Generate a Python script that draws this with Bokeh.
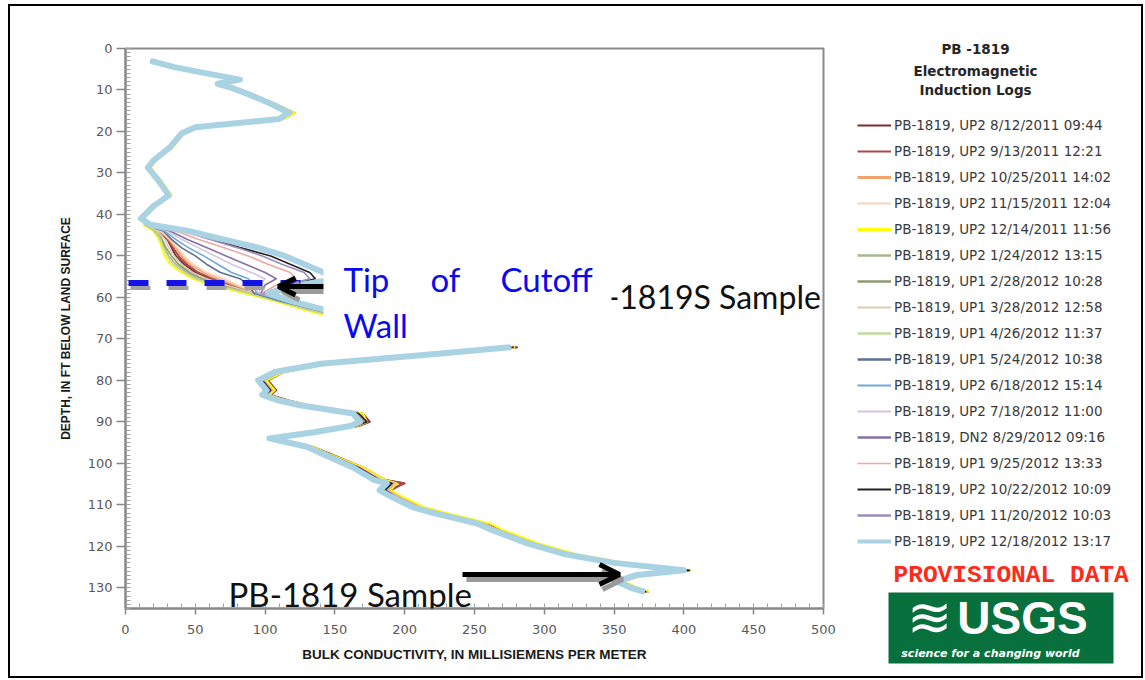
from bokeh.plotting import figure
from bokeh.layouts import row
from bokeh.models import (Range1d, FixedTicker, Legend, LegendItem, Label,
                          BoxAnnotation, Arrow, OpenHead, InlineStyleSheet)
from bokeh.embed import file_html
from bokeh.resources import INLINE

nan = float("nan")

# ---------------- data ----------------
X_TICKS = [0, 50, 100, 150, 200, 250, 300, 350, 400, 450, 500]
X_MINOR = list(range(0, 501, 10))
Y_TICKS = [0, 10, 20, 30, 40, 50, 60, 70, 80, 90, 100, 110, 120, 130]
Y_MINOR = list(range(0, 136))

DEPTH = [3, 4.5, 6, 7.5, 8.5, 9.5, 11, 13, 15.5, 17, 19, 20.5, 23.8, 27, 28.7, 32, 35.4, 38, 41,
         42.5, 44, 46, 48, 50, 52, 54, 55.5, 57, 59, 61, 63, 65,
         nan,
         72, 73.5, 76, 78, 80, 82.4, 83.5, 84.8, 86, 88, 90, 91, 92.5, 94, 96, 97.6, 101, 104,
         104.8, 106.5, 108, 110.6, 112, 114.5, 116, 119.3, 122, 124, 125.8, 127, 128.5, 130, 131]

C01 = [20, 34, 55, 79, 65, 76, 90, 105, 121, 113, 52, 42, 33, 21, 17, 25, 32, 21, 12,
       15, 24, 30, 33, 36, 42, 50, 60, 74, 92, 114, 136, 160, nan,
       281, 231, 146, 113, 102, 108, 104, 116, 131, 170, 175, 167, 140, 108, 134, 146, 170, 186,
       199, 190, 196, 212, 228, 258, 268, 294, 322, 356, 403, 370, 356, 366, 375]
C02 = [19, 34, 55, 80, 65, 76, 89, 104, 120, 112, 51, 41, 33, 21, 17, 25, 32, 21, 12,
       15, 24, 30, 34, 38, 44, 52, 62, 76, 94, 115, 137, 160, nan,
       280, 230, 145, 112, 101, 107, 103, 115, 130, 169, 174, 166, 139, 107, 133, 145, 169, 185,
       200, 189, 195, 211, 227, 257, 267, 293, 321, 355, 402, 369, 355, 365, 374]
C03 = [19, 35, 56, 80, 66, 76, 89, 104, 119, 111, 51, 41, 32, 21, 17, 24, 31, 21, 12,
       15, 25, 31, 36, 40, 46, 56, 66, 78, 95, 116, 138, 162, nan,
       279, 229, 144, 111, 100, 106, 102, 114, 129, 168, 173, 165, 138, 106, 133, 144, 168, 184,
       194, 188, 195, 210, 226, 256, 266, 292, 320, 354, 402, 368, 354, 364, 373]
C04 = [19, 35, 56, 81, 66, 76, 89, 103, 119, 111, 51, 40, 32, 21, 17, 24, 31, 21, 12,
       15, 25, 32, 37, 42, 48, 58, 70, 80, 96, 116, 138, 162, nan,
       279, 229, 144, 111, 99, 106, 101, 113, 129, 167, 172, 165, 138, 106, 132, 143, 167, 183,
       193, 187, 194, 210, 226, 256, 266, 292, 320, 354, 402, 368, 354, 364, 373]
C05 = [20, 36, 57, 81, 67, 78, 91, 105, 121, 114, 53, 42, 34, 22, 18, 26, 33, 22, 13,
       13, 20, 24, 26, 28, 32, 40, 48, 62, 85, 108, 128, 150, nan,
       279, 232, 147, 113, 101, 107, 103, 114, 131, 170, 173, 166, 140, 105, 134, 145, 170, 186,
       194, 190, 198, 214, 230, 261, 270, 296, 324, 358, 405, 370, 356, 367, 375]
C06 = [19, 35, 57, 81, 67, 77, 90, 104, 119, 111, 52, 41, 33, 21, 17, 25, 32, 21, 12,
       14, 21, 25, 28, 31, 36, 44, 52, 66, 88, 110, 132, 158, nan,
       278, 229, 144, 111, 99, 105, 101, 113, 129, 167, 172, 165, 138, 106, 132, 143, 167, 183,
       192, 187, 194, 210, 226, 256, 266, 292, 320, 354, 402, 368, 354, 364, 373]
C07 = [19, 35, 57, 81, 67, 77, 90, 103, 118, 111, 51, 41, 33, 21, 17, 25, 32, 21, 12,
       15, 22, 26, 29, 33, 38, 46, 55, 70, 90, 112, 134, 158, nan,
       278, 229, 143, 110, 99, 105, 101, 112, 128, 166, 172, 164, 138, 105, 132, 143, 167, 182,
       191, 186, 193, 209, 225, 255, 265, 291, 319, 353, 401, 367, 354, 364, 373]
C08 = [19, 35, 57, 81, 67, 77, 89, 103, 118, 111, 51, 41, 32, 21, 17, 24, 31, 21, 12,
       15, 23, 28, 31, 35, 40, 48, 58, 72, 92, 114, 136, 160, nan,
       278, 228, 143, 110, 98, 104, 100, 112, 128, 166, 171, 164, 137, 105, 131, 142, 166, 182,
       191, 186, 193, 209, 225, 255, 265, 291, 319, 353, 401, 367, 354, 364, 373]
C09 = [19, 36, 57, 81, 67, 78, 90, 104, 119, 112, 52, 41, 33, 22, 17, 25, 32, 21, 12,
       14, 22, 25, 27, 30, 34, 42, 50, 64, 88, 110, 130, 155, nan,
       278, 229, 144, 111, 99, 105, 101, 113, 129, 167, 172, 165, 138, 106, 132, 143, 167, 183,
       192, 187, 194, 210, 226, 256, 266, 292, 320, 354, 402, 368, 354, 364, 373]
C10 = [19, 35, 57, 81, 67, 77, 89, 103, 118, 111, 51, 41, 32, 21, 17, 24, 31, 21, 12,
       15, 27, 33, 40, 50, 58, 68, 82, 88, 92, 112, 136, 160, nan,
       278, 228, 143, 110, 98, 104, 100, 112, 128, 166, 171, 164, 137, 105, 131, 142, 166, 181,
       190, 185, 192, 208, 224, 254, 264, 290, 318, 352, 401, 367, 353, 363, 372]
C11 = [19, 35, 57, 81, 67, 77, 89, 103, 118, 111, 51, 41, 32, 21, 17, 24, 31, 21, 12,
       15, 28, 36, 45, 56, 66, 76, 88, 92, 94, 114, 137, 162, nan,
       277, 228, 142, 109, 97, 103, 100, 111, 127, 165, 170, 163, 137, 104, 131, 142, 166, 181,
       190, 185, 192, 208, 224, 254, 264, 290, 318, 352, 401, 367, 353, 363, 372]
C12 = [18, 35, 57, 81, 67, 77, 89, 103, 118, 111, 51, 40, 32, 21, 17, 24, 31, 21, 12,
       16, 30, 40, 52, 64, 76, 90, 100, 96, 96, 116, 138, 163, nan,
       277, 228, 142, 109, 97, 103, 99, 111, 127, 165, 170, 163, 136, 104, 131, 142, 165, 180,
       189, 184, 191, 207, 223, 253, 263, 289, 317, 351, 401, 366, 353, 363, 372]
C13 = [18, 35, 57, 81, 67, 77, 89, 103, 118, 111, 51, 40, 32, 21, 17, 24, 31, 21, 12,
       16, 32, 44, 58, 72, 86, 100, 108, 100, 97, 117, 139, 164, nan,
       277, 227, 142, 109, 97, 103, 99, 111, 127, 165, 170, 163, 136, 104, 131, 142, 165, 180,
       189, 184, 191, 207, 223, 253, 263, 289, 317, 351, 401, 366, 353, 363, 372]
C14 = [19, 36, 58, 82, 68, 78, 90, 104, 119, 112, 52, 41, 33, 22, 18, 25, 32, 22, 13,
       16, 36, 52, 70, 88, 102, 118, 122, 108, 98, 118, 140, 165, nan,
       278, 229, 143, 110, 99, 105, 101, 113, 129, 167, 172, 165, 138, 106, 133, 144, 168, 184,
       193, 188, 195, 211, 227, 257, 267, 293, 321, 355, 403, 369, 355, 365, 374]
C15 = [18, 35, 57, 81, 67, 77, 89, 103, 118, 111, 51, 40, 32, 21, 17, 24, 31, 21, 12,
       17, 42, 62, 82, 104, 118, 132, 136, 118, 100, 119, 142, 166, nan,
       278, 228, 143, 110, 98, 104, 100, 112, 128, 167, 173, 165, 138, 105, 132, 143, 167, 182,
       191, 186, 193, 209, 225, 255, 265, 291, 319, 353, 404, 368, 354, 364, 373]
C16 = [18, 35, 58, 82, 67, 77, 89, 103, 118, 111, 51, 40, 32, 21, 17, 24, 31, 21, 12,
       17, 40, 60, 80, 98, 112, 128, 132, 115, 99, 118, 141, 166, nan,
       277, 227, 142, 109, 97, 103, 99, 111, 127, 165, 170, 163, 136, 104, 131, 142, 165, 180,
       189, 184, 191, 207, 223, 253, 263, 289, 317, 351, 401, 366, 353, 363, 372]
C17 = [18, 35, 58, 82, 66, 76, 88, 102, 117, 110, 50, 40, 32, 20, 16, 24, 31, 20, 11,
       18, 45, 70, 95, 114, 128, 142, 152, 125, 102, 120, 143, 168, nan,
       276, 226, 140, 107, 95, 101, 98, 109, 125, 163, 168, 161, 135, 103, 130, 140, 163, 178,
       187, 182, 190, 206, 221, 252, 262, 288, 316, 350, 400, 365, 352, 362, 372]

SERIES = [C01, C02, C03, C04, C05, C06, C07, C08, C09, C10, C11, C12, C13, C14, C15, C16, C17]
LABELS = [
    "PB-1819, UP2 8/12/2011 09:44",
    "PB-1819, UP2 9/13/2011 12:21",
    "PB-1819, UP2 10/25/2011 14:02",
    "PB-1819, UP2 11/15/2011 12:04",
    "PB-1819, UP2 12/14/2011 11:56",
    "PB-1819, UP2 1/24/2012 13:15",
    "PB-1819, UP1 2/28/2012 10:28",
    "PB-1819, UP1 3/28/2012 12:58",
    "PB-1819, UP1 4/26/2012 11:37",
    "PB-1819, UP1 5/24/2012 10:38",
    "PB-1819, UP2 6/18/2012 15:14",
    "PB-1819, UP2 7/18/2012 11:00",
    "PB-1819, DN2 8/29/2012 09:16",
    "PB-1819, UP1 9/25/2012 13:33",
    "PB-1819, UP2 10/22/2012 10:09",
    "PB-1819, UP1 11/20/2012 10:03",
    "PB-1819, UP2 12/18/2012 13:17",
]

# ---------------- styles ----------------
COLORS = ["#7E2F2F", "#A94B4B", "#F2A36C", "#F9D4BA", "#FFFF00", "#A7B98B", "#8D9A72",
          "#D8CEB2", "#C5D99B", "#5D7193", "#72A8DA", "#D1C5E0", "#8770A8", "#F1A6A6",
          "#222222", "#9B8BBD", "#A9D3E3"]
WIDTHS = [2, 2, 2, 2, 2, 1.6, 1.6, 1.6, 1.6, 1.6, 1.6, 1.6, 1.6, 1.6, 1.6, 1.6, 6]
LEG_WIDTHS = [2, 2, 3, 2, 3, 2.5, 2.5, 2, 2.5, 2.5, 2, 2, 2.5, 1.5, 2, 2.5, 4]

W1, W2, H = 840, 303, 678
FX0, FX1, FY0, FY1 = 125, 823, 48, 608   # page pixels of the plotting frame


def dx(px):
    return (px - FX0) * 500.0 / (FX1 - FX0)


def dy(py):
    return (py - FY0) * 135.0 / (FY1 - FY0)


p = figure(width=W1, height=H, output_backend="svg", toolbar_location=None, title=None,
           x_range=Range1d(0, 500), y_range=Range1d(135, 0), frame_align=False,
           min_border_left=FX0, min_border_right=W1 - FX1,
           min_border_top=FY0, min_border_bottom=H - FY1)
p.background_fill_color = "white"
p.border_fill_color = "white"
p.outline_line_color = "#8a8a8a"
p.outline_line_width = 2
p.xgrid.visible = False
p.ygrid.visible = False

p.xaxis.ticker = FixedTicker(ticks=X_TICKS, minor_ticks=X_MINOR)
p.yaxis.ticker = FixedTicker(ticks=Y_TICKS, minor_ticks=Y_MINOR)
p.xaxis.axis_label = "BULK CONDUCTIVITY, IN MILLISIEMENS PER METER"
p.yaxis.axis_label = "DEPTH, IN FT BELOW LAND SURFACE"
for ax in (p.xaxis[0], p.yaxis[0]):
    ax.axis_line_color = "#868686"
    ax.axis_line_width = 2
    ax.major_tick_line_color = "#868686"
    ax.major_tick_line_width = 1.5
    ax.major_tick_in = 0
    ax.minor_tick_line_color = "#a0a0a0"
    ax.minor_tick_in = 5
    ax.minor_tick_out = 0
    ax.major_label_text_font = "DejaVu Sans"
    ax.major_label_text_font_size = "13px"
    ax.major_label_text_color = "#595959"
    ax.axis_label_text_font = "Liberation Sans"
    ax.axis_label_text_font_style = "bold"
    ax.axis_label_text_color = "#1a1a1a"
p.xaxis.major_tick_out = 6
p.xaxis.major_label_standoff = 10
p.xaxis.axis_label_standoff = 10
p.xaxis.axis_label_text_font_size = "13.5px"
p.yaxis.major_tick_out = 9
p.yaxis.major_label_standoff = 4
p.yaxis.axis_label_standoff = 12
p.yaxis.axis_label_text_font_size = "12px"

for cond, col, lw in zip(SERIES, COLORS, WIDTHS):
    p.line(x=cond, y=DEPTH, line_color=col, line_width=lw, line_join="round")

# ---------------- annotations inside the plot ----------------
p.add_layout(Arrow(end=None, x_start=dx(130), y_start=dy(287.5), x_end=dx(307), y_end=dy(287.5),
                   line_color="#a2a2a2", line_width=4, line_dash="20 18"))
p.add_layout(Arrow(end=None, x_start=dx(128), y_start=dy(282.5), x_end=dx(305), y_end=dy(282.5),
                   line_color="#1414E6", line_width=6, line_dash="20 18"))

p.add_layout(Label(x=dx(567), y=dy(296), text="PB-1819S Sample", text_font="Lato",
                   text_font_size="32px", text_color="#111111", text_baseline="middle"))

p.add_layout(Arrow(end=OpenHead(size=17, line_width=5, line_color="#9a9a9a"),
                   x_start=dx(330), y_start=dy(291), x_end=dx(282), y_end=dy(291),
                   line_color="#9a9a9a", line_width=5))
p.add_layout(Arrow(end=OpenHead(size=17, line_width=5, line_color="black"),
                   x_start=dx(326), y_start=dy(286), x_end=dx(278), y_end=dy(286),
                   line_color="black", line_width=5))

p.add_layout(BoxAnnotation(left=dx(323), right=dx(611), top=dy(242), bottom=dy(336),
                           fill_color="white", fill_alpha=1.0, line_alpha=0))
for txt, px, py in [("Tip", 343, 278), ("of", 430, 278), ("Cutoff", 500, 278), ("Wall", 343, 324)]:
    p.add_layout(Label(x=dx(px), y=dy(py), text=txt, text_font="Lato", text_font_size="33px",
                       text_color="#0A0AF0", text_baseline="alphabetic"))

p.add_layout(Label(x=dx(228), y=dy(593), text="PB-1819 Sample", text_font="Lato",
                   text_font_size="33px", text_color="#111111", text_baseline="alphabetic"))
p.add_layout(Arrow(end=OpenHead(size=20, line_width=5, line_color="#9a9a9a"),
                   x_start=dx(466), y_start=dy(579), x_end=dx(622), y_end=dy(579),
                   line_color="#9a9a9a", line_width=5))
p.add_layout(Arrow(end=OpenHead(size=20, line_width=5, line_color="black"),
                   x_start=dx(462), y_start=dy(574), x_end=dx(619), y_end=dy(574),
                   line_color="black", line_width=5))

# ---------------- side panel: legend, provisional note, logo ----------------
X0 = W1  # page x where the side panel starts
q = figure(width=W2, height=H, output_backend="svg", toolbar_location=None, title=None,
           x_range=Range1d(X0, X0 + W2), y_range=Range1d(H, 0), frame_align=False,
           x_axis_type=None, y_axis_type=None,
           min_border_left=0, min_border_right=0, min_border_top=0, min_border_bottom=0)
q.outline_line_color = None
q.background_fill_color = "white"
q.border_fill_color = "white"

for txt, py in [("PB -1819", 48), ("Electromagnetic", 70), ("Induction Logs", 89)]:
    q.add_layout(Label(x=975, y=py, text=txt, text_font="DejaVu Sans",
                       text_font_style="bold", text_font_size="13.5px", text_color="#262626",
                       text_align="center", text_baseline="middle"))

items = []
for cond, lab, col, lw in zip(SERIES, LABELS, COLORS, LEG_WIDTHS):
    r = q.line(x=cond, y=DEPTH, line_color=col, line_width=lw, visible=False)
    items.append(LegendItem(label=lab, renderers=[r]))
legend = Legend(items=items, location=(857 - X0, H - 551), orientation="vertical",
                glyph_width=34, glyph_height=20, label_height=20, spacing=6,
                padding=0, margin=0, label_standoff=3,
                border_line_alpha=0, background_fill_alpha=0, inactive_fill_alpha=0,
                label_text_font="DejaVu Sans", label_text_font_size="13.5px",
                label_text_color="#3a3a3a")
q.add_layout(legend, "center")

q.add_layout(Label(x=893, y=575, text="PROVISIONAL DATA", text_font="Liberation Mono",
                   text_font_style="bold", text_font_size="24.5px", text_color="#FF2A1A",
                   text_baseline="middle"))
q.add_layout(BoxAnnotation(left=888, right=1113, top=592, bottom=663,
                           fill_color="#08703C", fill_alpha=1.0, line_alpha=0))
q.add_layout(Label(x=929, y=617, text="\u224b", text_font="DejaVu Sans",
                   text_font_size="54px", text_color="white", text_align="center",
                   text_baseline="middle"))
q.add_layout(Label(x=1022, y=617, text="USGS", text_font="Liberation Sans",
                   text_font_style="bold", text_font_size="46px", text_color="white",
                   text_align="center", text_baseline="middle"))
q.add_layout(Label(x=990, y=653, text="science for a changing world",
                   text_font="DejaVu Sans", text_font_style="bold italic",
                   text_font_size="11px", text_color="white",
                   text_align="center", text_baseline="middle"))

frame_css = InlineStyleSheet(css=(
    ":host { position: relative; }"
    ":host::after { content: ''; position: absolute; left: 8px; top: 4px; right: 0px;"
    " bottom: 0px; border: 2px solid black; pointer-events: none; z-index: 100; }"))
layout = row(p, q, stylesheets=[frame_css])

open("out.html", "w").write(file_html(layout, INLINE))
